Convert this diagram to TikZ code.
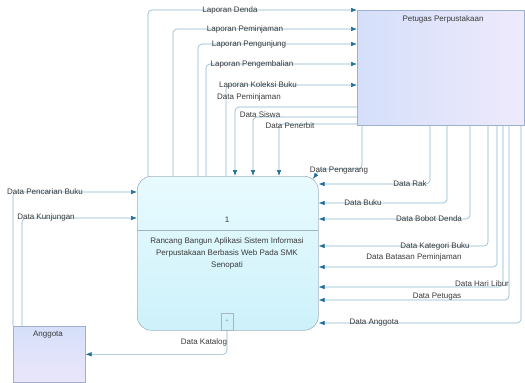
\documentclass[tikz,border=0pt]{standalone}
\usepackage{fontspec}
\setmainfont{Liberation Sans}
\usetikzlibrary{arrows.meta}
\definecolor{linec}{HTML}{86B6CE}
\definecolor{arrc}{HTML}{1F6E9C}
\definecolor{txtc}{HTML}{3A3A3A}
\definecolor{entborder}{HTML}{9FB0CF}
\definecolor{procborder}{HTML}{A3B3BE}
\tikzset{
  ent/.style={draw=entborder, line width=0.6pt, rectangle, inner sep=0pt},
  procbox/.style={draw=procborder, line width=0.6pt, rectangle, rounded corners=14pt, inner sep=0pt,
    top color={rgb,255:red,232;green,251;blue,254}, bottom color={rgb,255:red,205;green,241;blue,250}},
  lbl/.style={font=\fontsize{8}{9.5}\selectfont, text=txtc, inner sep=0.5pt},
  flow/.style={draw=linec, line width=0.6pt, rounded corners=4pt},
  into/.style={flow, -{Latex[length=6pt,width=4.5pt,color=arrc]}},
}
\begin{document}
\begin{tikzpicture}[x=1pt,y=-1pt]
\useasboundingbox (0,0) rectangle (525,383);
% entities
\node[ent, anchor=north west, minimum width=167pt, minimum height=115pt,
  left color={rgb,255:red,213;green,223;blue,250}, right color={rgb,255:red,238;green,234;blue,251}] (pet) at (357,10) {};
\node[lbl] (petl) at (443,19) {Petugas Perpustakaan};
\node[ent, anchor=north west, minimum width=72pt, minimum height=56pt,
  top color={rgb,255:red,214;green,224;blue,250}, bottom color={rgb,255:red,234;green,230;blue,250}] (ang) at (13,326) {};
\node[lbl] (angl) at (48,335) {Anggota};
% process
\node[procbox, anchor=north west, minimum width=181pt, minimum height=154pt] (proc) at (137,176) {};
\coordinate (dvl) at (137,230);
\coordinate (dvr) at (318,230);
\draw[draw=procborder, line width=0.6pt] (dvl) -- (dvr);
\node[lbl] (pnum) at (227,220) {1};
\node[lbl, align=center, font=\fontsize{8}{12}\selectfont] (pname) at (227,253)
  {Rancang Bangun Aplikasi Sistem Informasi\\Perpustakaan Berbasis Web Pada SMK\\Senopati};
\node[draw={rgb,255:red,170;green,180;blue,190}, line width=0.5pt, anchor=south, minimum width=12pt, minimum height=17pt, inner sep=0pt] (sub) at (227,330) {};
\node[font=\fontsize{5}{5}\selectfont, text=gray, inner sep=0pt] (subp) at (227,321) {+};
% outputs to Petugas (top)
\coordinate (c1) at (148,10);
\coordinate (c2) at (173,29);
\coordinate (c3) at (198,44);
\coordinate (c4) at (206,64);
\coordinate (c5) at (226,85);
\draw[into] (proc.north -| c1) |- (pet.west |- c1);
\draw[into] (proc.north -| c2) |- (pet.west |- c2);
\draw[into] (proc.north -| c3) |- (pet.west |- c3);
\draw[into] (proc.north -| c4) |- (pet.west |- c4);
\draw[into] (proc.north -| c5) |- (pet.west |- c5);
\node[lbl] (l1) at (230,10) {Laporan Denda};
\node[lbl] (l2) at (245,29) {Laporan Peminjaman};
\node[lbl] (l3) at (249,44) {Laporan Pengunjung};
\node[lbl] (l4) at (252,64) {Laporan Pengembalian};
\node[lbl] (l5) at (258,85) {Laporan Koleksi Buku};
% inputs from Petugas (top)
\coordinate (d1) at (235,107);
\coordinate (d2) at (253,117);
\coordinate (d3) at (279,124);
\draw[into] (pet.west |- d1) -| (proc.north -| d1);
\draw[into] (pet.west |- d2) -| (proc.north -| d2);
\draw[into] (pet.west |- d3) -| (proc.north -| d3);
\node[lbl] (l6) at (249,97) {Data Peminjaman};
\node[lbl] (l7) at (260,115) {Data Siswa};
\node[lbl] (l8) at (290,126) {Data Penerbit};
% inputs from Petugas (right)
\coordinate (e0) at (362,169);
\coordinate (e0t) at (313,179);
\draw[flow, -{Latex[length=6pt,width=4.5pt,color=arrc]}] (pet.south -| e0) |- ([xshift=7pt]e0t |- e0) -- (e0t);
\node[lbl] (l9) at (339,171) {Data Pengarang};
\coordinate (e1) at (430,184);
\coordinate (e2) at (447,203);
\coordinate (e3) at (470,219);
\coordinate (e4) at (488,246);
\coordinate (e5) at (497,267);
\coordinate (e6) at (503,287);
\coordinate (e7) at (509,300);
\coordinate (e8) at (521,323);
\foreach \c in {e1,e2,e3,e4,e5,e6,e7,e8}
  \draw[into] (pet.south -| \c) |- (proc.east |- \c);
\node[lbl] (l10) at (410,184) {Data Rak};
\node[lbl] (l11) at (363,203) {Data Buku};
\node[lbl] (l12) at (429,219) {Data Bobot Denda};
\node[lbl] (l13) at (435,246) {Data Kategori Buku};
\node[lbl] (l14) at (414,257) {Data Batasan Peminjaman};
\node[lbl] (l15) at (482,284) {Data Hari Libur};
\node[lbl] (l16) at (437,297) {Data Petugas};
\node[lbl] (l17) at (374,323) {Data Anggota};
% Anggota flows
\coordinate (a1) at (13,192);
\coordinate (a2) at (22,218);
\draw[into] (ang.north -| a1) |- (proc.west |- a1);
\draw[into] (ang.north -| a2) |- (proc.west |- a2);
\node[lbl] (l18) at (45,192) {Data Pencarian Buku};
\node[lbl] (l19) at (46,217) {Data Kunjungan};
\draw[into] (sub.south) |- (ang.east);
\node[lbl] (l20) at (204,342) {Data Katalog};
\end{tikzpicture}
\end{document}
